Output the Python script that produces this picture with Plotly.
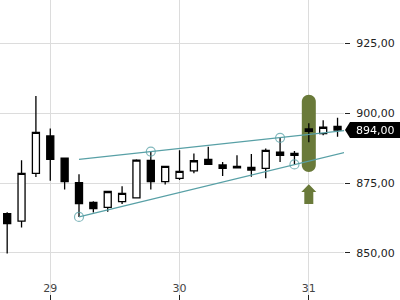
import plotly.graph_objects as go

# ---- data ----
slot = list(range(-3, 21))
open_ = [864.1, 861.4, 878.5, 891.9, 883.9, 875.2, 868.1, 866.3, 868.4, 869.7, 883.1, 875.5,
         876.7, 879.4, 883.5, 881.5, 881.0, 880.6, 880.3, 886.1, 885.6, 894.4, 892.7, 895.3]
high = [864.6, 883.2, 906.2, 894.6, 884.0, 878.2, 868.5, 872.0, 873.9, 883.5, 886.3, 881.0,
        886.8, 885.6, 888.0, 882.6, 885.0, 885.4, 887.4, 891.2, 886.5, 896.4, 897.5, 898.4]
low = [849.8, 859.1, 877.2, 875.8, 872.7, 862.9, 864.5, 864.7, 867.5, 869.5, 872.7, 874.5,
       876.1, 878.5, 881.6, 877.5, 880.3, 877.3, 876.7, 882.6, 881.7, 889.6, 892.1, 891.6]
close = [860.5, 878.5, 893.2, 883.5, 875.5, 867.7, 865.9, 872.0, 871.3, 883.2, 875.5, 881.0,
         879.2, 883.0, 881.7, 880.3, 880.5, 879.7, 886.7, 884.9, 884.9, 893.5, 895.0, 894.0]

day_ticks = [0, 9, 18]
day_labels = ["29", "30", "31"]
price_ticks = [850, 875, 900, 925]

upper_x = [2, 20.5]
upper_y = [883.5, 893.8]
upper_touch_x = [7, 16]
upper_touch_y = [886.3, 891.2]
lower_x = [2, 20.5]
lower_y = [862.9, 886.0]
lower_touch_x = [2, 17]
lower_touch_y = [862.9, 881.7]

last_price = 894.0
signal_slot = 18
signal_top = 906.6
signal_bottom = 879.0
arrow_tip = 874.6
arrow_head_base = 871.8
arrow_bottom = 867.5

TEAL = "rgb(88,160,166)"
OLIVE = "rgb(106,122,58)"
FONT = "DejaVu Sans"

fig = go.Figure()
fig.add_trace(go.Candlestick(
    x=slot, open=open_, high=high, low=low, close=close,
    increasing=dict(line=dict(color="black", width=1.3), fillcolor="white"),
    decreasing=dict(line=dict(color="black", width=1.3), fillcolor="black"),
    whiskerwidth=0, hoverinfo="skip", showlegend=False,
))
for lx, ly in [(upper_x, upper_y), (lower_x, lower_y)]:
    fig.add_trace(go.Scatter(x=lx, y=ly, mode="lines", line=dict(color=TEAL, width=1.3),
                             hoverinfo="skip", showlegend=False))
fig.add_trace(go.Scatter(
    x=upper_touch_x + lower_touch_x, y=upper_touch_y + lower_touch_y, mode="markers",
    marker=dict(symbol="circle-open", size=9, color=TEAL, line=dict(width=1.2)),
    opacity=0.75, hoverinfo="skip", showlegend=False))

# rounded signal bar (pixel width, data height)
rx = 7.0
ry = 7.0 / 2.792
k = 0.5523
t, b = signal_top, signal_bottom
path = (f"M{-rx},{b+ry} L{-rx},{t-ry} "
        f"C{-rx},{t-ry+k*ry} {-k*rx},{t} 0,{t} "
        f"C{k*rx},{t} {rx},{t-ry+k*ry} {rx},{t-ry} "
        f"L{rx},{b+ry} "
        f"C{rx},{b+ry-k*ry} {k*rx},{b} 0,{b} "
        f"C{-k*rx},{b} {-rx},{b+ry-k*ry} {-rx},{b+ry} Z")
fig.add_shape(type="path", path=path, xref="x", yref="y", xsizemode="pixel",
              xanchor=signal_slot, fillcolor=OLIVE, line=dict(width=0), layer="between")
# up arrow
apath = (f"M0,{arrow_tip} L7.5,{arrow_head_base} L4.5,{arrow_head_base} L4.5,{arrow_bottom} "
         f"L-4.5,{arrow_bottom} L-4.5,{arrow_head_base} L-7.5,{arrow_head_base} Z")
fig.add_shape(type="path", path=apath, xref="x", yref="y", xsizemode="pixel",
              xanchor=signal_slot, fillcolor=OLIVE, line=dict(width=0), layer="above")
# price label
fig.add_shape(type="path", path="M1,0 L6,8 L56,8 L56,-8 L6,-8 Z",
              xref="paper", yref="y", xsizemode="pixel", ysizemode="pixel",
              xanchor=1, yanchor=last_price, fillcolor="black", line=dict(width=0))
fig.add_annotation(x=1, xref="paper", y=last_price, yref="y", xanchor="left", yanchor="middle",
                   xshift=11, text=f"{last_price:.2f}".replace(".", ","), showarrow=False,
                   font=dict(family=FONT, size=11, color="white"), borderpad=0)

fig.update_layout(
    width=400, height=300, margin=dict(l=0, r=56, t=0, b=0),
    paper_bgcolor="white", plot_bgcolor="white", separators=", ",
    font=dict(family=FONT, size=11, color="#222"),
    xaxis=dict(range=[-3.5, 20.45], tickvals=day_ticks, ticktext=day_labels,
               showgrid=True, gridcolor="#dcdcdc", gridwidth=1, zeroline=False,
               ticks="inside", ticklen=5, tickcolor="#222", ticklabelposition="inside",
               rangeslider=dict(visible=False), showline=False, fixedrange=True),
    yaxis=dict(range=[833.13, 940.58], side="right", tickvals=price_ticks, tickformat=".2f",
               showgrid=True, gridcolor="#dcdcdc", gridwidth=1, zeroline=False,
               ticks="outside", ticklen=5, tickcolor="#222", showline=False, fixedrange=True,
               ticklabelstandoff=4),
)
fig.write_html("out.html")
